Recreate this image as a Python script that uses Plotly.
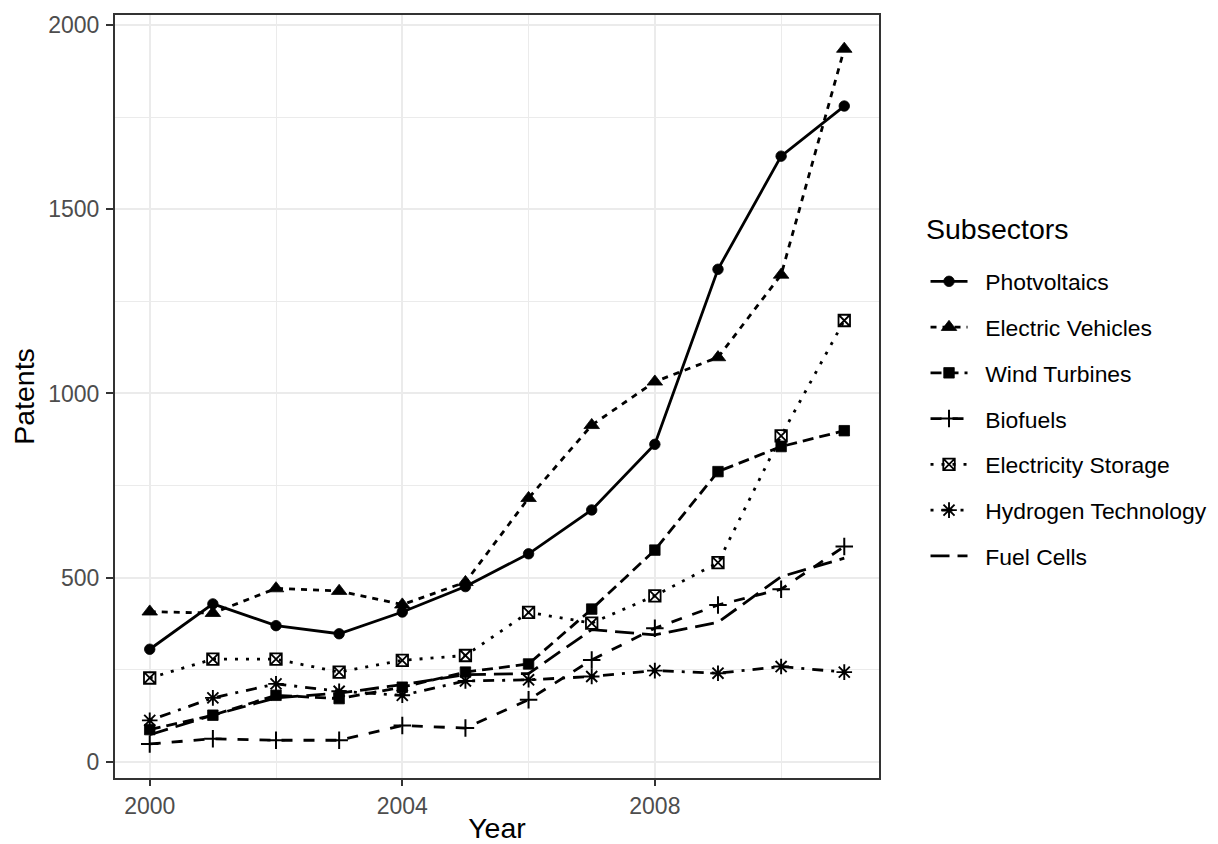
import plotly.graph_objects as go

years = list(range(2000, 2012))

photovoltaics = [306, 429, 370, 348, 407, 476, 565, 684, 862, 1337, 1644, 1780]
electric_vehicles = [408, 404, 471, 464, 427, 488, 716, 914, 1032, 1098, 1322, 1935]
wind_turbines = [88, 127, 181, 172, 203, 244, 266, 415, 575, 788, 856, 899]
biofuels = [49, 63, 59, 59, 99, 92, 169, 277, 363, 426, 469, 585]
electricity_storage = [228, 279, 279, 244, 276, 289, 406, 377, 451, 541, 885, 1198]
hydrogen_technology = [113, 174, 212, 192, 181, 220, 223, 232, 248, 241, 259, 244]
fuel_cells = [74, 127, 174, 187, 210, 237, 240, 359, 345, 379, 503, 553]

series_names = ["Photvoltaics", "Electric Vehicles", "Wind Turbines", "Biofuels",
                "Electricity Storage", "Hydrogen Technology", "Fuel Cells"]
series_values = [photovoltaics, electric_vehicles, wind_turbines, biofuels,
                 electricity_storage, hydrogen_technology, fuel_cells]

x_ticks = [2000, 2004, 2008]
y_ticks = [0, 500, 1000, 1500, 2000]

styles = [
    dict(dash="solid", symbol="circle", size=10.5, lw=0.8),
    dict(dash="6px,6px", symbol="triangle-up", size=13.5, lw=0.8),
    dict(dash="11px,6px", symbol="square", size=10.5, lw=0.8),
    dict(dash="11px,11px", symbol="cross-thin-open", size=12.5, lw=2),
    dict(dash="3px,8px", symbol="square-x-open", size=11.5, lw=1.8),
    dict(dash="3px,8px,11px,8px", symbol="asterisk-open", size=13, lw=1.9),
    dict(dash="19px,8px", symbol=None, size=0, lw=0),
]

NB = "\u00a0"

fig = go.Figure()
for name, vals, st in zip(series_names, series_values, styles):
    if st["symbol"] is None:
        mode = "lines"
        marker = None
    else:
        mode = "lines+markers"
        marker = dict(symbol=st["symbol"], size=st["size"], color="black",
                      line=dict(color="black", width=st["lw"]))
    fig.add_trace(go.Scatter(
        x=years, y=vals, name=NB * 2 + name, mode=mode, legendgroup=name,
        line=dict(color="black", width=2.8, dash=st["dash"]),
        marker=marker,
    ))

font_family = "Liberation Sans, Arial, sans-serif"

axis_common = dict(
    showline=True, linecolor="#333333", linewidth=2, mirror=True,
    ticks="outside", tickwidth=2, tickcolor="#333333",
    tickfont=dict(family=font_family, size=23, color="#4D4D4D"),
    showgrid=True, gridcolor="#EBEBEB", gridwidth=2,
    zeroline=False, automargin=False,
)

# page is offset by the 8px body margin; margins compensate
fig.update_layout(
    width=1210, height=836,
    margin=dict(l=107, r=338, t=7, b=66),
    paper_bgcolor="white", plot_bgcolor="white",
    font=dict(family=font_family, color="black"),
    xaxis=dict(
        range=[1999.45, 2011.55], tickmode="array", tickvals=x_ticks,
        ticktext=[str(v) for v in x_ticks], ticklen=6,
        minor=dict(tickmode="array", tickvals=[2002, 2006, 2010], showgrid=True,
                   gridcolor="#EBEBEB", gridwidth=1, ticks=""),
        title=dict(text="Year", font=dict(size=28.5, color="black"), standoff=6),
        **axis_common,
    ),
    yaxis=dict(
        range=[-43.4, 2027], tickmode="array", tickvals=y_ticks,
        ticktext=[str(v) for v in y_ticks], ticklen=7, ticklabelstandoff=2,
        minor=dict(tickmode="array", tickvals=[250, 750, 1250, 1750], showgrid=True,
                   gridcolor="#EBEBEB", gridwidth=1, ticks=""),
        title=dict(text="Patents", font=dict(size=28.5, color="black"), standoff=16),
        **axis_common,
    ),
    legend=dict(
        x=1.0595, xanchor="left", y=0.679, yanchor="top",
        font=dict(size=22.9, color="black"),
        tracegroupgap=13, traceorder="grouped",
        bgcolor="rgba(0,0,0,0)", borderwidth=0,
        itemwidth=37,
    ),
    annotations=[dict(
        text="Subsectors", xref="paper", yref="paper", x=1.0588, y=0.7195,
        xanchor="left", yanchor="middle", showarrow=False,
        font=dict(size=28.5, color="black", family=font_family),
    )],
    showlegend=True,
)

fig.write_html("out.html")
